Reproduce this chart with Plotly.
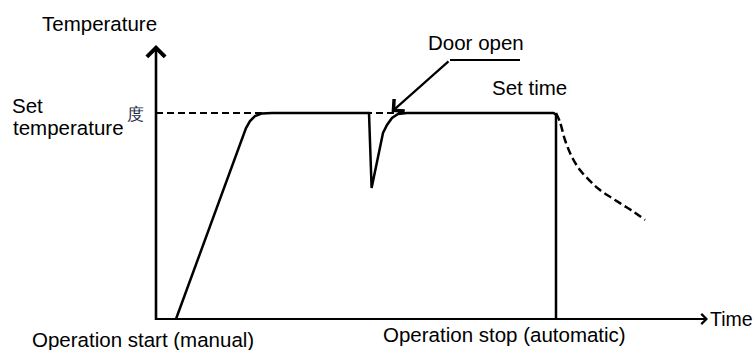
import plotly.graph_objects as go

# Data (time in % of set time, temperature in % of set temperature)
run_time = [5, 22.5, 23.5, 24.75, 26.5, 29, 53.25, 53.9, 56.75, 57.75, 59, 60.5, 62.75, 99.4, 100, 100]
run_temp = [0, 92.7, 96.1, 98.5, 99.8, 100, 100, 63.6, 90.3, 94.2, 97.6, 99.5, 100, 100, 99.2, 0]

setpoint_time = [0, 62.75]
setpoint_temp = [100, 100]

cool_time = [100, 101, 102.25, 104, 106, 108.5, 111, 114, 116.75, 119.5, 122.25]
cool_temp = [100, 95.6, 86.9, 78.6, 72.3, 67.0, 62.6, 58.7, 55.3, 51.9, 48.1]

door_tip = (58.9, 100.5)
door_tail = (73.5, 125.7)
door_leader_end = 91

axis_top = 133
axis_right = 138

FONT = "Liberation Sans, Arial, sans-serif"

fig = go.Figure()
fig.add_trace(go.Scatter(x=setpoint_time, y=setpoint_temp, mode="lines",
                         line=dict(color="black", width=1.8, dash="7px,4px"),
                         hoverinfo="skip", showlegend=False))
fig.add_trace(go.Scatter(x=run_time, y=run_temp, mode="lines",
                         line=dict(color="black", width=2.5),
                         hoverinfo="skip", showlegend=False))
fig.add_trace(go.Scatter(x=cool_time, y=cool_temp, mode="lines",
                         line=dict(color="black", width=2.5, dash="8px,4px", shape="spline"),
                         hoverinfo="skip", showlegend=False))
fig.add_trace(go.Scatter(x=[door_tail[0], door_leader_end], y=[door_tail[1], door_tail[1]], mode="lines",
                         line=dict(color="black", width=2),
                         hoverinfo="skip", showlegend=False))

# Axes with arrows
fig.add_annotation(x=0, y=axis_top, ax=0, ay=-1.2, xref="x", yref="y", axref="x", ayref="y",
                   text="", showarrow=True, arrowhead=4, arrowwidth=2.6, arrowsize=1.35,
                   arrowcolor="black", standoff=0)
fig.add_annotation(x=axis_right, y=0, ax=-0.3, ay=0, xref="x", yref="y", axref="x", ayref="y",
                   text="", showarrow=True, arrowhead=4, arrowwidth=2.2, arrowsize=0.9,
                   arrowcolor="black", standoff=0)
fig.add_annotation(x=door_tip[0], y=door_tip[1], ax=door_tail[0], ay=door_tail[1],
                   xref="x", yref="y", axref="x", ayref="y",
                   text="", showarrow=True, arrowhead=4, arrowwidth=2.2, arrowsize=1.4,
                   arrowcolor="black", standoff=0)

def label(text, px, py, size=20.5, color="black"):
    fig.add_annotation(x=px / 755, y=1 - py / 350, xref="paper", yref="paper",
                       text=text, showarrow=False, xanchor="left", yanchor="middle",
                       font=dict(family=FONT, size=size, color=color), borderpad=0)

label("Temperature", 41, 23)
label("Set", 11, 105)
label("temperature", 12, 128)
label("度", 126, 115, size=17, color="#262b45")
label("Door open", 427, 42)
label("Set time", 491, 87)
label("Time", 709, 319, size=19.5)
label("Operation start (manual)", 31, 339)
label("Operation stop (automatic)", 382, 334)

fig.update_layout(
    width=755, height=350,
    margin=dict(l=0, r=0, t=0, b=0),
    paper_bgcolor="white", plot_bgcolor="white",
    xaxis=dict(range=[-39, 149.75], visible=False, fixedrange=True),
    yaxis=dict(range=[-15.05, 154.85], visible=False, fixedrange=True),
    showlegend=False,
)

fig.write_html("out.html", config={"displayModeBar": False},
               post_script="document.body.style.margin='0';document.body.style.overflow='hidden';")
